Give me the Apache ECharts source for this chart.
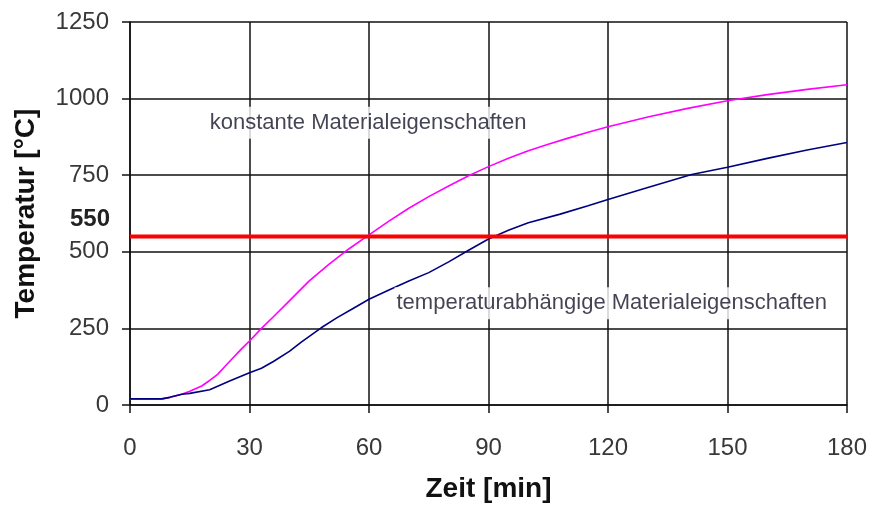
<!DOCTYPE html>
<html>
<head>
<meta charset="utf-8">
<script src="https://cdn.jsdelivr.net/npm/echarts@6/dist/echarts.min.js"></script>
<style>
  html, body { margin: 0; padding: 0; background: #fff; }
  #chart { width: 870px; height: 508px; }
</style>
</head>
<body>
<div id="chart"></div>
<script>
// Zeit [min] / Temperatur [°C] – constant material properties
const zeitKonstant = [0, 5, 8, 10, 13, 15, 18, 20, 22, 24, 26, 28, 30, 33, 36, 40, 45, 50, 55, 60, 65, 70, 75, 80, 85, 90, 95, 100, 105, 110, 115, 120, 130, 140, 150, 160, 170, 180];
const tempKonstant = [20, 20, 20, 25, 35, 45, 62, 80, 100, 128, 156, 183, 209, 250, 288, 340, 405, 460, 510, 555, 600, 642, 680, 715, 748, 778, 805, 830, 851, 871, 890, 908, 940, 968, 993, 1013, 1030, 1045];

// temperature-dependent material properties
const zeitAbhaengig = [0, 5, 8, 10, 13, 15, 20, 25, 30, 33, 36, 40, 43, 48, 52, 56, 60, 65, 70, 75, 80, 85, 90, 95, 100, 108, 115, 120, 130, 141, 150, 160, 170, 180];
const tempAbhaengig = [20, 20, 20, 25, 35, 38, 50, 78, 105, 120, 142, 175, 205, 252, 285, 315, 345, 375, 405, 432, 467, 505, 542, 570, 595, 623, 650, 671, 710, 752, 776, 805, 832, 857];

// critical temperature
const grenzTemperatur = 550;
const zeitBereich = [0, 180];

const xTicks = { min: 0, max: 180, interval: 30 };
const yTicks = { min: 0, max: 1250, interval: 250 };

const beschriftungen = [
  { zeit: 19.5, temp: 921, text: 'konstante Materialeigenschaften' },
  { zeit: 66.4, temp: 332, text: 'temperaturabhängige Materialeigenschaften' }
];

const pairs = (xs, ys) => xs.map((x, i) => [x, ys[i]]);

const font = 'Liberation Sans, Arial, sans-serif';
const chart = echarts.init(document.getElementById('chart'), null, { renderer: 'canvas' });

chart.setOption({
  backgroundColor: '#ffffff',
  animation: false,
  grid: { left: 130, top: 22, right: 22, bottom: 98, containLabel: false },
  xAxis: {
    type: 'value',
    min: xTicks.min, max: xTicks.max, interval: xTicks.interval,
    name: 'Zeit [min]',
    nameLocation: 'middle',
    nameGap: 70,
    nameTextStyle: { fontFamily: font, fontSize: 28, fontWeight: 'bold', color: '#111' },
    axisLine: { show: true, onZero: false, lineStyle: { color: '#111', width: 1.5 } },
    axisTick: { show: true, length: 8, lineStyle: { color: '#111', width: 1.5 } },
    axisLabel: { margin: 31, fontFamily: font, fontSize: 24, color: '#383838', formatter: v => String(v) },
    splitLine: { show: true, lineStyle: { color: '#111', width: 1.5 } }
  },
  yAxis: {
    type: 'value',
    min: yTicks.min, max: yTicks.max, interval: yTicks.interval,
    name: 'Temperatur [°C]',
    nameLocation: 'middle',
    nameGap: 90,
    nameTextStyle: { fontFamily: font, fontSize: 28, fontWeight: 'bold', color: '#111' },
    axisLine: { show: true, lineStyle: { color: '#111', width: 1.5 } },
    axisTick: { show: true, length: 8, lineStyle: { color: '#111', width: 1.5 } },
    axisLabel: { margin: 21, fontFamily: font, fontSize: 24, color: '#383838', formatter: v => String(v) },
    splitLine: { show: true, lineStyle: { color: '#111', width: 1.5 } }
  },
  series: [
    {
      name: 'konstant',
      type: 'line',
      data: pairs(zeitKonstant, tempKonstant),
      smooth: false,
      showSymbol: false,
      lineStyle: { color: '#ff00ff', width: 1.6 },
      z: 3
    },
    {
      name: 'abhaengig',
      type: 'line',
      data: pairs(zeitAbhaengig, tempAbhaengig),
      smooth: false,
      showSymbol: false,
      lineStyle: { color: '#000080', width: 1.6 },
      z: 3
    },
    {
      name: 'grenze',
      type: 'line',
      data: zeitBereich.map(z => [z, grenzTemperatur]),
      showSymbol: false,
      lineStyle: { color: '#ff0000', width: 4 },
      z: 4,
      markPoint: {
        symbol: 'circle',
        symbolSize: 0,
        data: [{ coord: [zeitBereich[0], grenzTemperatur], value: grenzTemperatur }],
        label: {
          show: true,
          position: 'left',
          distance: 20,
          offset: [0, -17],
          formatter: String(grenzTemperatur),
          fontFamily: font,
          fontSize: 24,
          fontWeight: 'bold',
          color: '#222'
        }
      }
    },
    {
      name: 'beschriftung',
      type: 'scatter',
      symbolSize: 0,
      data: beschriftungen.map(b => ({ value: [b.zeit, b.temp], text: b.text })),
      label: {
        show: true,
        position: 'right',
        distance: 0,
        formatter: p => p.data.text,
        fontFamily: font,
        fontSize: 22,
        color: '#141428',
        backgroundColor: '#ffffff',
        padding: [5, 2]
      },
      z: 5
    }
  ]
});
</script>
</body>
</html>
